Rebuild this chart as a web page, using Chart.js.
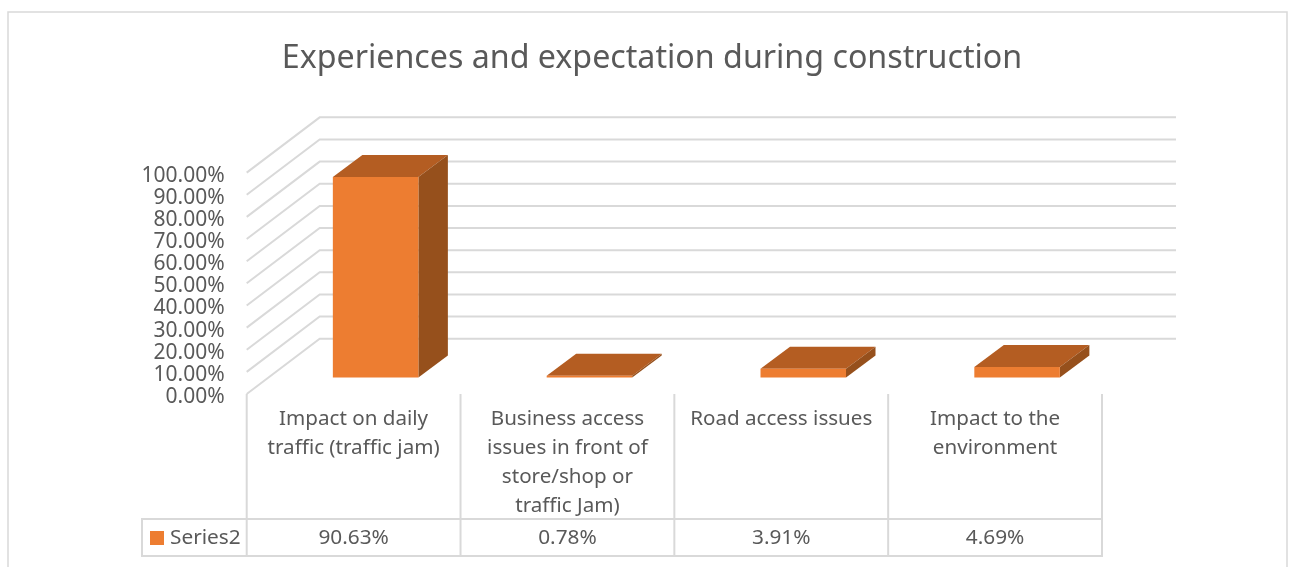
<!DOCTYPE html>
<html>
<head>
<meta charset="utf-8">
<title>Experiences and expectation during construction</title>
<script src="https://cdn.jsdelivr.net/npm/chart.js@4"></script>
<style>
html,body{margin:0;padding:0;background:#fff;}
canvas{display:block;}
</style>
</head>
<body>
<canvas id="chart3d" width="1298" height="567"></canvas>
<script>
const chartTitle = 'Experiences and expectation during construction';
const categories = [
	['Impact on daily', 'traffic (traffic jam)'],
	['Business access', 'issues in front of', 'store/shop or', 'traffic Jam)'],
	['Road access issues'],
	['Impact to the', 'environment']
];
const seriesName = 'Series2';
const series2 = [90.63, 0.78, 3.91, 4.69];
const yTicks = [0, 10, 20, 30, 40, 50, 60, 70, 80, 90, 100];

const textColor = '#595959';
const lineColor = '#d9d9d9';
const fontName = '"Noto Sans", sans-serif';

function poly(ctx, pts, color){
	ctx.fillStyle = color;
	ctx.beginPath();
	pts.forEach((p,i)=>{ i ? ctx.lineTo(p[0],p[1]) : ctx.moveTo(p[0],p[1]); });
	ctx.closePath();
	ctx.fill();
}
function seg(ctx, pts){
	ctx.beginPath();
	pts.forEach((p,i)=>{ i ? ctx.lineTo(p[0],p[1]) : ctx.moveTo(p[0],p[1]); });
	ctx.stroke();
}

// 3d look of the excel chart: walls, side faces of the bars and the data table
const fake3d = {
	id: 'fake3d',
	afterLayout(chart){
		// title is centred on the frame, not on the plot
		chart.titleBlock.left = 6;
		chart.titleBlock.right = 1298;
	},
	beforeDraw(chart){
		const ctx = chart.ctx;
		ctx.save();
		ctx.strokeStyle = lineColor;
		ctx.lineWidth = 1.5;
		ctx.strokeRect(8, 12, 1279, 600);
		ctx.restore();
	},
	beforeDatasetsDraw(chart){
		const ctx = chart.ctx, x = chart.scales.x, y = chart.scales.y;
		ctx.save();
		ctx.strokeStyle = lineColor;
		ctx.lineWidth = 2;
		yTicks.forEach(v=>{
			const py = y.getPixelForValue(v);
			seg(ctx, [[x.left, py], [x.left+73, py-55.3], [1176, py-55.3]]);
		});
		// data table
		const rowTop = 519, rowBottom = 556;
		categories.forEach((c,i)=>{
			const px = x.getPixelForValue(i-0.5);
			seg(ctx, [[px, y.bottom], [px, rowBottom]]);
		});
		const end = x.getPixelForValue(categories.length-0.5);
		seg(ctx, [[end, y.bottom], [end, rowBottom]]);
		ctx.strokeRect(142, rowTop, end-142, rowBottom-rowTop);
		ctx.fillStyle = '#ed7d31';
		ctx.fillRect(150, 531, 14, 14);
		ctx.fillStyle = textColor;
		ctx.font = '20.8px '+fontName;
		ctx.textBaseline = 'middle';
		ctx.textAlign = 'left';
		ctx.fillText(seriesName, 170, 538);
		ctx.textAlign = 'center';
		series2.forEach((v,i)=>{
			ctx.fillText(v.toFixed(2)+'%', x.getPixelForValue(i), 538);
		});
		ctx.restore();

		// bars sit further back than the axis plane
		ctx.save();
		ctx.translate(22, -16.5);
		chart.getDatasetMeta(0).data.forEach(bar=>{
			const l = bar.x-bar.width/2, r = bar.x+bar.width/2;
			poly(ctx, [[l,bar.y],[r,bar.y],[r+29.5,bar.y-22],[l+29.5,bar.y-22]], '#b45d22');
			poly(ctx, [[r,bar.y],[r+29.5,bar.y-22],[r+29.5,bar.base-22],[r,bar.base]], '#96501c');
		});
	},
	afterDatasetsDraw(chart){
		chart.ctx.restore();
	}
};

new Chart(document.querySelector('#chart3d').getContext('2d'), {
	type: 'bar',
	data: {
		labels: categories,
		datasets: [{
			label: seriesName,
			data: series2,
			backgroundColor: '#ed7d31',
			categoryPercentage: 1,
			barPercentage: 0.4,
			clip: false
		}]
	},
	plugins: [fake3d],
	options: {
		responsive: false,
		animation: false,
		layout: { padding: { left: 0, right: 196, top: 0, bottom: 0 } },
		plugins: {
			legend: { display: false },
			tooltip: { enabled: false },
			title: {
				display: true,
				text: chartTitle,
				color: textColor,
				font: { family: fontName, size: 32.2, weight: 'normal', lineHeight: 1.2 },
				padding: { top: 40, bottom: 94 }
			}
		},
		scales: {
			x: {
				afterFit(s){ s.height = 567-394; },
				grid: { display: false },
				border: { display: false },
				ticks: {
					color: textColor,
					font: { family: fontName, size: 20.6, lineHeight: 1.4 },
					padding: 3,
					maxRotation: 0,
					autoSkip: false
				}
			},
			y: {
				min: 0,
				max: 100,
				afterFit(s){ s.width = 246.7; },
				afterBuildTicks(s){ s.ticks = yTicks.map(v=>({value:v})); },
				grid: { display: false, drawTicks: false },
				border: { display: false },
				ticks: {
					color: textColor,
					font: { family: fontName, size: 21, lineHeight: 1 },
					padding: 22,
					autoSkip: false,
					labelOffset: 3,
					callback: v => v.toFixed(2)+'%'
				}
			}
		}
	}
});
</script>
</body>
</html>
